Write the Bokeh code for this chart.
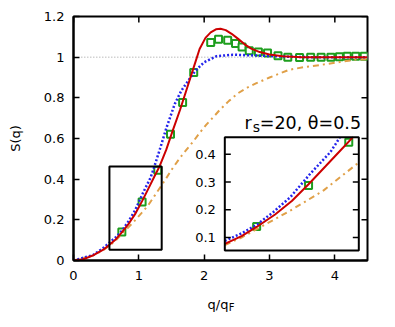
import math
from bokeh.plotting import figure
from bokeh.models import Range1d, FixedTicker, Label
from bokeh.core.properties import value
from bokeh.embed import file_html
from bokeh.resources import INLINE

# ---------------- data ----------------
red_q = [0, 0.15, 0.3, 0.45, 0.55, 0.65, 0.74, 0.85, 0.95, 1.05, 1.15, 1.24, 1.32, 1.42,
         1.52, 1.63, 1.73, 1.83, 1.93, 2.02, 2.1, 2.18, 2.25, 2.33, 2.42, 2.52, 2.62, 2.72,
         2.85, 3.0, 3.2, 3.5, 4.0, 4.5]
red_s = [0, 0.006, 0.025, 0.052, 0.077, 0.105, 0.138, 0.183, 0.232, 0.292, 0.356, 0.414,
         0.465, 0.545, 0.64, 0.74, 0.84, 0.94, 1.04, 1.095, 1.122, 1.137, 1.14, 1.133, 1.115,
         1.09, 1.063, 1.042, 1.025, 1.013, 1.005, 1.0, 1.0, 1.0]

blue_q = [0, 0.3, 0.45, 0.554, 0.65, 0.743, 0.84, 0.94, 1.06, 1.18, 1.22, 1.32, 1.42, 1.55,
          1.65, 1.73, 1.8, 1.88, 2.0, 2.19, 2.44, 2.8, 3.2, 3.6, 4.0, 4.5]
blue_s = [0, 0.027, 0.06, 0.089, 0.115, 0.147, 0.192, 0.245, 0.33, 0.408, 0.445, 0.545,
          0.65, 0.77, 0.835, 0.872, 0.905, 0.938, 0.975, 1.005, 1.012, 1.008, 1.003, 1.0,
          1.0, 1.0]

orange_q = [0, 0.3, 0.45, 0.554, 0.65, 0.743, 0.84, 0.94, 1.04, 1.14, 1.24, 1.34, 1.43,
            1.52, 1.63, 1.73, 1.83, 1.93, 2.03, 2.14, 2.24, 2.38, 2.52, 2.66, 2.8, 3.0,
            3.3, 3.55, 3.81, 4.05, 4.32, 4.5]
orange_s = [0, 0.025, 0.05, 0.074, 0.1, 0.131, 0.163, 0.197, 0.233, 0.27, 0.318, 0.366,
            0.41, 0.455, 0.505, 0.545, 0.584, 0.627, 0.667, 0.705, 0.741, 0.785, 0.823,
            0.85, 0.872, 0.9, 0.938, 0.952, 0.963, 0.975, 0.988, 0.99]

pimc_q = [0.74, 1.05, 1.29, 1.485, 1.67, 1.84, 2.10, 2.22, 2.36, 2.48, 2.58, 2.69, 2.83,
          2.97, 3.13, 3.28, 3.46, 3.63, 3.79, 3.94, 4.07, 4.19, 4.32, 4.45]
pimc_s = [0.14, 0.288, 0.444, 0.621, 0.777, 0.925, 1.072, 1.088, 1.083, 1.067, 1.05, 1.032,
          1.025, 1.02, 1.007, 1.0, 0.998, 1.0, 1.0, 1.0, 1.002, 1.004, 1.005, 1.004]

ref_q = [0.12, 4.5]
ref_s = [1.0, 1.0]

x_ticks = [0, 1, 2, 3, 4]
y_ticks = [0, 0.2, 0.4, 0.6, 0.8, 1.0, 1.2]
y_tick_overrides = {0: "0", 1: "1"}
inset_y_ticks = [0.1, 0.2, 0.3, 0.4]
inset_y_labels = ["0.1", "0.2", "0.3", "0.4"]

x_range = (0, 4.5)
y_range = (0, 1.2)
inset_x = (0.55, 1.35)          # zoomed data window
inset_y = (0.053, 0.462)
inset_place_x = (2.316, 4.367)  # where the inset sits, in main-axis units
inset_place_y = (0.049, 0.6065)

FONT = "DejaVu Sans"
RED = "#cc0000"
BLUE = "#2424ec"
ORANGE = "#e0a048"
GREEN = "#1e9e1e"


def clip_polyline(xs, ys, x0, x1, y0, y1):
    """Clip a polyline to a rectangle (Liang-Barsky), NaN-separated pieces."""
    ox, oy = [], []
    last = None
    for i in range(len(xs) - 1):
        xa, ya, xb, yb = xs[i], ys[i], xs[i + 1], ys[i + 1]
        dx, dy = xb - xa, yb - ya
        t0, t1 = 0.0, 1.0
        ok = True
        for pp, qq in ((-dx, xa - x0), (dx, x1 - xa), (-dy, ya - y0), (dy, y1 - ya)):
            if pp == 0:
                if qq < 0:
                    ok = False
                    break
            else:
                r = qq / pp
                if pp < 0:
                    t0 = max(t0, r)
                else:
                    t1 = min(t1, r)
        if not ok or t0 > t1:
            continue
        sa = (xa + t0 * dx, ya + t0 * dy)
        sb = (xa + t1 * dx, ya + t1 * dy)
        if last is None or abs(last[0] - sa[0]) > 1e-12 or abs(last[1] - sa[1]) > 1e-12:
            if ox:
                ox.append(float("nan"))
                oy.append(float("nan"))
            ox.append(sa[0])
            oy.append(sa[1])
        ox.append(sb[0])
        oy.append(sb[1])
        last = sb
    return ox, oy


def draw(g, clip=None):
    def cl(xs, ys):
        if clip is None:
            return xs, ys
        return clip_polyline(xs, ys, *clip)

    if clip is None:
        g.line(ref_q, ref_s, line_color="#9a9a9a", line_width=1, line_dash="1 2")
        g.scatter(pimc_q, pimc_s, marker="square", size=7, line_color=GREEN,
                  line_width=2, fill_color="white")
    else:
        keep = [clip[0] <= q <= clip[1] and clip[2] <= s <= clip[3]
                for q, s in zip(pimc_q, pimc_s)]
        qx = [q for q, k in zip(pimc_q, keep) if k]
        qy = [s for s, k in zip(pimc_s, keep) if k]
        g.scatter(qx, qy, marker="square", size=7, line_color=GREEN,
                  line_width=2, fill_color="white")
    x, y = cl(orange_q, orange_s)
    g.line(x, y, line_color=ORANGE, line_width=2, line_dash="6 4 2 4")
    x, y = cl(blue_q, blue_s)
    g.line(x, y, line_color=BLUE, line_width=2.5, line_dash="2 2")
    x, y = cl(red_q, red_s)
    g.line(x, y, line_color=RED, line_width=2)


# ---------------- main figure ----------------
p = figure(width=387, height=319, title=None,
           x_range=Range1d(*x_range), y_range=Range1d(*y_range),
           output_backend="svg", toolbar_location=None,
           min_border_left=73, min_border_right=20, min_border_top=16, min_border_bottom=59)
p.grid.visible = False
p.outline_line_color = "black"
p.outline_line_width = 2
p.background_fill_color = "white"
p.border_fill_color = "white"

for ax, ticks in ((p.xaxis[0], x_ticks), (p.yaxis[0], y_ticks)):
    ax.ticker = FixedTicker(ticks=ticks)
    ax.minor_tick_line_color = None
    ax.major_tick_in = 6
    ax.major_tick_out = 0
    ax.major_tick_line_width = 1.5
    ax.major_tick_line_color = "black"
    ax.axis_line_width = 2
    ax.axis_line_color = "black"
    ax.major_label_text_font = FONT
    ax.major_label_text_font_size = "13px"
    ax.major_label_text_color = "black"
p.xaxis[0].major_label_standoff = 10
p.yaxis[0].major_label_standoff = 9
p.yaxis[0].major_label_overrides = y_tick_overrides
p.yaxis[0].axis_label = "S(q)"
p.yaxis[0].axis_label_text_font = FONT
p.yaxis[0].axis_label_text_font_size = "13px"
p.yaxis[0].axis_label_text_font_style = "normal"
p.yaxis[0].axis_label_text_color = "black"
p.yaxis[0].axis_label_standoff = 18

# mirrored ticks on top and right
p.ray(x=x_ticks, y=[y_range[1]] * len(x_ticks), length=6, length_units="screen",
      angle=-math.pi / 2, line_color="black", line_width=1.5)
p.ray(x=[x_range[1]] * len(y_ticks), y=y_ticks, length=6, length_units="screen",
      angle=math.pi, line_color="black", line_width=1.5)

draw(p)
p.quad(left=[inset_x[0]], right=[inset_x[1]], bottom=[inset_y[0]], top=[inset_y[1]],
       fill_alpha=0, line_color="black", line_width=2)

# ---------------- inset (sub-coordinates) ----------------
sub = p.subplot(x_source=Range1d(*inset_x), y_source=Range1d(*inset_y),
                x_target=Range1d(*inset_place_x), y_target=Range1d(*inset_place_y))
sub.quad(left=[inset_x[0]], right=[inset_x[1]], bottom=[inset_y[0]], top=[inset_y[1]],
         fill_color="white", line_color=None)
draw(sub, clip=(inset_x[0], inset_x[1], inset_y[0], inset_y[1]))
sub.quad(left=[inset_x[0]], right=[inset_x[1]], bottom=[inset_y[0]], top=[inset_y[1]],
         fill_alpha=0, line_color="black", line_width=2)
sub.ray(x=[inset_x[0]] * len(inset_y_ticks), y=inset_y_ticks, length=6,
        length_units="screen", angle=0, line_color="black", line_width=1.5)
sub.ray(x=[inset_x[1]] * len(inset_y_ticks), y=inset_y_ticks, length=6,
        length_units="screen", angle=math.pi, line_color="black", line_width=1.5)
sub.text(x=[inset_x[0]] * len(inset_y_ticks), y=inset_y_ticks, text=inset_y_labels,
         x_offset=-9, text_align="right", text_baseline="middle",
         text_font=value(FONT), text_font_size="13px", text_color="black")

# x-axis label q/q_F (placed in the side panel below so it is not clipped to the frame)
p.add_layout(Label(x=2.051, y=-0.2164, text="q/q",
                   text_font=FONT, text_font_size="13px", text_baseline="alphabetic",
                   text_align="left", text_color="black"), "below")
p.add_layout(Label(x=2.377, y=-0.2326, text="F",
                   text_font=FONT, text_font_size="10px", text_baseline="alphabetic",
                   text_align="left", text_color="black"), "below")

# annotation r_s=20, θ=0.5
p.add_layout(Label(x=171, y=137.3, x_units="screen", y_units="screen", text="r",
                   text_font=FONT, text_font_size="17.5px", text_baseline="alphabetic",
                   text_align="left", text_color="black"))
p.add_layout(Label(x=179.3, y=134, x_units="screen", y_units="screen", text="s",
                   text_font=FONT, text_font_size="14px", text_baseline="alphabetic",
                   text_align="left", text_color="black"))
p.add_layout(Label(x=186.3, y=137.3, x_units="screen", y_units="screen", text="=20, θ=0.5",
                   text_font=FONT, text_font_size="17.5px", text_baseline="alphabetic",
                   text_align="left", text_color="black"))

open("out.html", "w").write(file_html(p, INLINE))
